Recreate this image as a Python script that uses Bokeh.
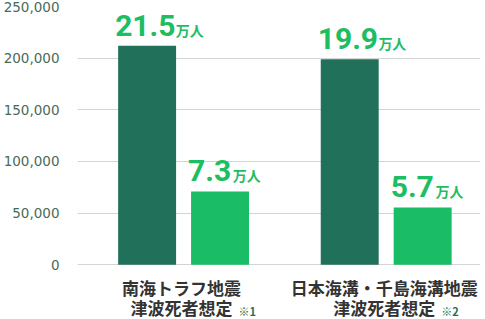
from bokeh.plotting import figure
from bokeh.models import ColumnDataSource, LabelSet, Range1d, NumeralTickFormatter, FixedTicker
from bokeh.transform import dodge
from bokeh.core.properties import value
from bokeh.embed import file_html
from bokeh.resources import INLINE

# ---- data ----
groups = [0, 1]
line1 = ["南海トラフ地震", "日本海溝・千島海溝地震"]
line2 = ["津波死者想定", "津波死者想定"]
notes = ["※1", "※2"]
dark_values = [212000, 199000]
light_values = [71000, 55500]
dark_labels = ["21.5", "19.9"]
light_labels = ["7.3", "5.7"]
unit_label = "万人"
y_ticks = [0, 50000, 100000, 150000, 200000, 250000]

DARK = "#20705a"
LIGHT = "#1abc66"
LABEL_GREEN = "#1dbd62"
NUM_SIZE = 30
BAR_W = 0.286
OFF = 0.18


def text_width(s, size):
    w = 0
    for ch in s:
        w += 0.27 * size if ch == "." else 0.5615 * size
    return w


src = ColumnDataSource(dict(
    g=groups, l1=line1, l2=line2, note=notes,
    dark=dark_values, light=light_values,
    dl=dark_labels, ll=light_labels,
    du=[unit_label] * 2, lu=[unit_label] * 2,
    du_x=[text_width(s, NUM_SIZE) - 1 for s in dark_labels],
    lu_x=[text_width(s, NUM_SIZE) for s in light_labels],
    zero=[0, 0],
))

# frame spans the full height below the top margin; the area under 0 holds the category labels
y_top = 250000
y_bottom = -(319 - 264.3) / 258.3 * y_top

p = figure(width=485, height=319, output_backend="svg", toolbar_location=None,
           x_range=Range1d(-0.5236, 1.4655), y_range=Range1d(y_bottom, y_top),
           min_border_left=76, min_border_right=5, min_border_top=6, min_border_bottom=0)
p.outline_line_color = None
p.background_fill_color = "white"
p.border_fill_color = "white"

p.vbar(x=dodge("g", -OFF, range=p.x_range), top="dark", bottom=0, width=BAR_W, source=src,
       color=DARK, line_color=None)
p.vbar(x=dodge("g", OFF, range=p.x_range), top="light", bottom=0, width=BAR_W, source=src,
       color=LIGHT, line_color=None)

p.xaxis.visible = False
p.xgrid.visible = False
p.ygrid.grid_line_color = "#d4d4d4"
p.ygrid.grid_line_width = 1.2
p.yaxis.ticker = FixedTicker(ticks=y_ticks)
p.yaxis.formatter = NumeralTickFormatter(format="0,0")
p.yaxis.axis_line_color = None
p.yaxis.major_tick_line_color = None
p.yaxis.minor_tick_line_color = None
p.yaxis.major_label_standoff = 12
p.yaxis.major_label_text_font = "DejaVu Sans"
p.yaxis.major_label_text_font_size = "13.5px"
p.yaxis.major_label_text_color = "#4a6a58"

left_edge = -BAR_W / 2
for xo, ycol, tcol, ucol in [(-OFF, "dark", "dl", "du"), (OFF, "light", "ll", "lu")]:
    p.add_layout(LabelSet(x=dodge("g", xo + left_edge, range=p.x_range), y=ycol, text=tcol,
                          source=src, x_offset=-3, y_offset=10,
                          text_font=value("Roboto"), text_font_style="bold",
                          text_font_size=f"{NUM_SIZE}px", text_color=LABEL_GREEN,
                          text_align="left", text_baseline="alphabetic"))
    p.add_layout(LabelSet(x=dodge("g", xo + left_edge, range=p.x_range), y=ycol, text=ucol,
                          source=src, x_offset=ucol + "_x", y_offset=10,
                          text_font=value("Noto Sans CJK JP"), text_font_style="bold",
                          text_font_size="14px", text_color=LABEL_GREEN,
                          text_align="left", text_baseline="alphabetic"))

# category labels
p.add_layout(LabelSet(x="g", y="zero", text="l1", source=src, x_offset=-2, y_offset=-23,
                      text_font=value("Noto Sans CJK JP"), text_font_style="bold",
                      text_font_size="17px", text_color="#333333",
                      text_align="center", text_baseline="middle"))
p.add_layout(LabelSet(x="g", y="zero", text="l2", source=src, x_offset=-2, y_offset=-43,
                      text_font=value("Noto Sans CJK JP"), text_font_style="bold",
                      text_font_size="17px", text_color="#333333",
                      text_align="center", text_baseline="middle"))
p.add_layout(LabelSet(x="g", y="zero", text="note", source=src, x_offset=55, y_offset=-46,
                      text_font=value("Noto Sans CJK JP"), text_font_style="bold",
                      text_font_size="11px", text_color="#2a6e50",
                      text_align="left", text_baseline="middle"))

open("out.html", "w").write(file_html(p, INLINE))
